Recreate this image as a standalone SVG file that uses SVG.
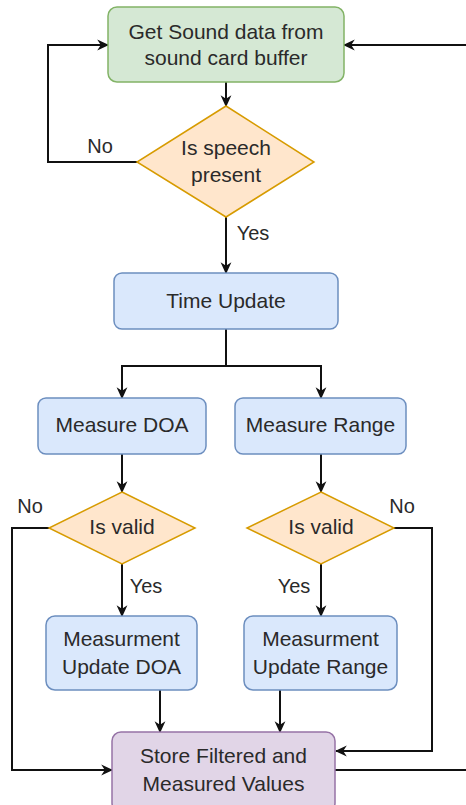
<svg xmlns="http://www.w3.org/2000/svg" width="466" height="805" viewBox="0 0 466 805">
  <defs>
    <marker id="arrow" viewBox="0 0 10 10" refX="9" refY="5" markerWidth="12" markerHeight="12" markerUnits="userSpaceOnUse" orient="auto">
      <path d="M0,0.5 L10,5 L0,9.5 L3,5 Z" fill="#111"/>
    </marker>
    <style>
      text { font-family: "Liberation Sans", Arial, sans-serif; font-size: 21px; fill: #2a2a2a; text-anchor: middle; }
      .lbl { font-size: 20px; }
      .green { fill: #d5e8d4; stroke: #82b366; stroke-width: 1.5; }
      .orange { fill: #ffe6cc; stroke: #d79b00; stroke-width: 1.5; }
      .blue { fill: #dae8fc; stroke: #6c8ebf; stroke-width: 1.5; }
      .purple { fill: #e1d5e7; stroke: #9673a6; stroke-width: 1.5; }
      .edge { fill: none; stroke: #111; stroke-width: 2; }
      .arr { marker-end: url(#arrow); }
    </style>
  </defs>
  <rect width="466" height="805" fill="#ffffff"/>

  <!-- connectors -->
  <g id="connectors">
    <path class="edge arr" d="M226,82 V106"/>
    <path class="edge arr" d="M137,162 H48 V45 H108"/>
    <path class="edge arr" d="M466,45 H344"/>
    <path class="edge arr" d="M226,217 V273"/>
    <path class="edge" d="M226,329 V366"/>
    <path class="edge arr" d="M226,366 H122 V398"/>
    <path class="edge arr" d="M226,366 H321 V398"/>
    <path class="edge arr" d="M122,454 V492"/>
    <path class="edge arr" d="M321,454 V492"/>
    <path class="edge arr" d="M122,564 V616"/>
    <path class="edge arr" d="M321,564 V616"/>
    <path class="edge arr" d="M49,528 H12 V770 H112"/>
    <path class="edge arr" d="M394,528 H432 V751 H336"/>
    <path class="edge arr" d="M160,690 V732"/>
    <path class="edge arr" d="M280,690 V732"/>
    <path class="edge" d="M335,770 H466"/>
    <text class="lbl" x="100" y="153">No</text>
    <text class="lbl" x="253" y="240">Yes</text>
    <text class="lbl" x="30" y="513">No</text>
    <text class="lbl" x="402" y="513">No</text>
    <text class="lbl" x="146" y="593">Yes</text>
    <text class="lbl" x="294" y="593">Yes</text>
  </g>

  <g id="get-sound">
    <rect class="green" x="108" y="7" width="236" height="75" rx="9"/>
    <text x="226" y="38.5">Get Sound data from</text>
    <text x="226" y="65">sound card buffer</text>
  </g>

  <g id="speech-present">
    <polygon class="orange" points="226,106 314,162 226,217 137,162"/>
    <text x="226" y="155">Is speech</text>
    <text x="226" y="182">present</text>
  </g>

  <g id="time-update">
    <rect class="blue" x="114" y="273" width="224" height="56" rx="8"/>
    <text x="226" y="308">Time Update</text>
  </g>

  <g id="measure-doa">
    <rect class="blue" x="38" y="398" width="168" height="56" rx="8"/>
    <text x="122" y="432">Measure DOA</text>
  </g>

  <g id="measure-range">
    <rect class="blue" x="235" y="398" width="171" height="56" rx="8"/>
    <text x="320.5" y="432">Measure Range</text>
  </g>

  <g id="valid-doa">
    <polygon class="orange" points="122,492 195,528 122,564 49,528"/>
    <text x="122" y="534">Is valid</text>
  </g>

  <g id="valid-range">
    <polygon class="orange" points="321,492 394,528 321,564 247,528"/>
    <text x="321" y="534">Is valid</text>
  </g>

  <g id="update-doa">
    <rect class="blue" x="46" y="616" width="151" height="74" rx="9"/>
    <text x="121.5" y="646">Measurment</text>
    <text x="121.5" y="674">Update DOA</text>
  </g>

  <g id="update-range">
    <rect class="blue" x="244" y="616" width="153" height="74" rx="9"/>
    <text x="320.5" y="646">Measurment</text>
    <text x="320.5" y="674">Update Range</text>
  </g>

  <g id="store-values">
    <rect class="purple" x="112" y="732" width="223" height="80" rx="9"/>
    <text x="223.5" y="763">Store Filtered and</text>
    <text x="223.5" y="791">Measured Values</text>
  </g>
</svg>
